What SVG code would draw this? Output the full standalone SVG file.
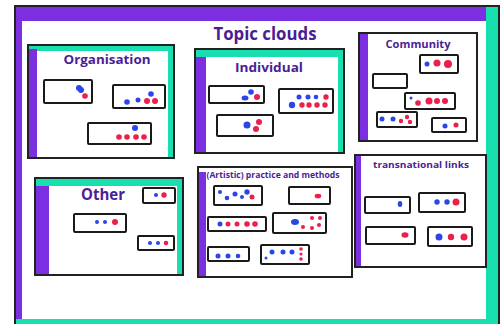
<svg xmlns="http://www.w3.org/2000/svg" width="504" height="324" viewBox="0 0 504 324">
<style>
.frame{fill:#fff;stroke:#222;stroke-width:2}
.pur{fill:#7b2fe0}
.teal{fill:#19dfae}
.box{fill:#fff;stroke:#1a1a1a;stroke-width:2;rx:1}
.b{fill:#2a45e8}
.r{fill:#ea1f4c}
.t{font-family:"Open Sans","DejaVu Sans",sans-serif;font-weight:bold;fill:#4b1d96;text-anchor:middle}
</style>
<rect width="504" height="324" fill="#fff"/>
<g id="frame">
<rect x="15" y="6" width="484" height="320" class="frame"/>
<rect x="16" y="7" width="470" height="14" class="pur"/>
<rect x="16" y="7" width="6" height="316" class="pur"/>
<rect x="486" y="7" width="12" height="316" class="teal"/>
<rect x="16" y="319" width="482" height="5" class="teal"/>
<text x="265" y="40" class="t" font-size="17" textLength="103" lengthAdjust="spacingAndGlyphs">Topic clouds</text>
</g>
<g id="organisation">
<rect x="28" y="45" width="146" height="113" class="frame"/>
<rect x="29" y="46" width="144" height="5" class="teal"/>
<rect x="168" y="46" width="5" height="111" class="teal"/>
<rect x="29" y="49" width="8" height="108" class="pur"/>
<text x="107" y="64" class="t" font-size="12.5" textLength="87" lengthAdjust="spacingAndGlyphs">Organisation</text>
<rect x="44" y="80" width="48" height="23" class="box"/>
<circle cx="79" cy="88" r="3" class="b"/><circle cx="81" cy="90" r="3" class="b"/><circle cx="85" cy="96" r="2.8" class="r"/>
<rect x="113" y="85" width="52" height="23" class="box"/>
<circle cx="127" cy="102" r="2.8" class="b"/><circle cx="138" cy="100" r="2.5" class="b"/><circle cx="151" cy="94" r="2.8" class="b"/><circle cx="147" cy="101" r="3" class="r"/><circle cx="155" cy="101" r="3" class="r"/>
<rect x="88" y="123" width="63" height="21" class="box"/>
<circle cx="135" cy="128" r="3" class="b"/><circle cx="119" cy="137" r="2.8" class="r"/><circle cx="127" cy="137" r="2.8" class="r"/><circle cx="136" cy="137" r="2.8" class="r"/><circle cx="144" cy="137" r="2.8" class="r"/>
</g>
<g id="individual">
<rect x="195" y="49" width="149" height="104" class="frame"/>
<rect x="196" y="50" width="147" height="7" class="teal"/>
<rect x="338" y="50" width="5" height="102" class="teal"/>
<rect x="196" y="57" width="10" height="95" class="pur"/>
<text x="269" y="72" class="t" font-size="12.5" textLength="68" lengthAdjust="spacingAndGlyphs">Individual</text>
<rect x="209" y="86" width="55" height="17" class="box"/>
<circle cx="251" cy="92" r="2.8" class="b"/><ellipse cx="245" cy="98" rx="3.5" ry="2.5" class="b"/><circle cx="257" cy="97" r="3" class="r"/>
<rect x="279" y="89" width="54" height="24" class="box"/>
<circle cx="299" cy="97" r="2.5" class="b"/><circle cx="308" cy="97" r="2.5" class="b"/><circle cx="316" cy="97" r="2.3" class="b"/><circle cx="326" cy="97" r="2.7" class="r"/>
<circle cx="292" cy="105" r="3.2" class="b"/><circle cx="302" cy="105" r="2.7" class="r"/><circle cx="309" cy="105" r="2.7" class="r"/><circle cx="317" cy="105" r="2.7" class="r"/><circle cx="325" cy="105" r="2.7" class="r"/>
<rect x="217" y="115" width="56" height="21" class="box"/>
<circle cx="247" cy="125" r="3.5" class="b"/><circle cx="259" cy="122" r="3" class="r"/><circle cx="256" cy="129" r="3" class="r"/>
</g>
<g id="community">
<rect x="359" y="33" width="118" height="108" class="frame"/>
<rect x="360" y="34" width="8" height="106" class="pur"/>
<text x="418" y="48" class="t" font-size="11" textLength="65" lengthAdjust="spacingAndGlyphs">Community</text>
<rect x="420" y="55" width="38" height="18" class="box"/>
<circle cx="427" cy="64" r="2.5" class="b"/><circle cx="437" cy="63" r="3.5" class="r"/><circle cx="448" cy="64" r="4" class="r"/>
<rect x="373" y="74" width="34" height="14" class="box"/>
<rect x="405" y="93" width="50" height="16" class="box"/>
<circle cx="411" cy="98" r="1.5" class="b"/><circle cx="418" cy="103" r="2.8" class="r"/><circle cx="429" cy="101" r="3.5" class="r"/><circle cx="437" cy="101" r="3" class="r"/><circle cx="445" cy="101" r="3" class="r"/>
<rect x="377" y="112" width="40" height="15" class="box"/>
<circle cx="382" cy="119" r="2.5" class="b"/><circle cx="393" cy="119" r="2.5" class="b"/><circle cx="401" cy="121" r="2.2" class="r"/><circle cx="407" cy="117" r="2.2" class="r"/><circle cx="410" cy="122" r="2.2" class="r"/>
<rect x="432" y="118" width="34" height="14" class="box"/>
<circle cx="445" cy="126" r="2.5" class="b"/><circle cx="456" cy="125" r="2.5" class="r"/>
</g>
<g id="other">
<rect x="35" y="178" width="148" height="97" class="frame"/>
<rect x="36" y="179" width="146" height="7" class="teal"/>
<rect x="177" y="179" width="5" height="95" class="teal"/>
<rect x="36" y="186" width="13" height="88" class="pur"/>
<text x="103" y="200" class="t" font-size="16" textLength="44" lengthAdjust="spacingAndGlyphs">Other</text>
<rect x="143" y="188" width="32" height="15" class="box"/>
<circle cx="156" cy="195" r="2" class="b"/><circle cx="164" cy="195" r="2.7" class="r"/>
<rect x="74" y="214" width="52" height="18" class="box"/>
<circle cx="97" cy="222" r="2" class="b"/><circle cx="105" cy="222" r="2" class="b"/><circle cx="115" cy="222" r="3" class="r"/>
<rect x="138" y="236" width="36" height="14" class="box"/>
<circle cx="150" cy="243" r="2" class="b"/><circle cx="158" cy="243" r="2" class="b"/><circle cx="166" cy="243" r="2.3" class="r"/>
</g>
<g id="practice">
<rect x="198" y="167" width="154" height="110" class="frame"/>
<rect x="199" y="172" width="7" height="104" class="pur"/>
<text x="273" y="178" class="t" font-size="8.5" textLength="133" lengthAdjust="spacingAndGlyphs">(Artistic) practice and methods</text>
<rect x="214" y="186" width="48" height="19" class="box"/>
<circle cx="220" cy="192" r="2" class="b"/><circle cx="227" cy="198" r="2.3" class="b"/><circle cx="235" cy="194" r="2.5" class="b"/><circle cx="242" cy="197" r="2" class="b"/><circle cx="247" cy="192" r="2.7" class="b"/><circle cx="252" cy="197" r="2.5" class="r"/>
<rect x="289" y="187" width="41" height="17" class="box"/>
<ellipse cx="318" cy="196" rx="3.3" ry="2.3" class="r"/>
<rect x="208" y="217" width="58" height="14" class="box"/>
<circle cx="220" cy="224" r="2.5" class="b"/><circle cx="228" cy="224" r="2.5" class="r"/><circle cx="237" cy="224" r="2.5" class="r"/><circle cx="247" cy="224" r="2.8" class="r"/><circle cx="255" cy="224" r="2.8" class="r"/>
<rect x="273" y="213" width="53" height="20" class="box"/>
<ellipse cx="295" cy="222" rx="4" ry="3" class="b"/><circle cx="312" cy="218" r="2" class="r"/><circle cx="320" cy="218" r="2" class="r"/><circle cx="303" cy="227" r="2" class="r"/><circle cx="312" cy="228" r="2" class="r"/><circle cx="319" cy="225" r="2" class="r"/>
<rect x="208" y="247" width="41" height="14" class="box"/>
<circle cx="218" cy="256" r="2.5" class="b"/><circle cx="228" cy="256" r="2.5" class="b"/><circle cx="238" cy="256" r="2.3" class="b"/>
<rect x="261" y="245" width="48" height="19" class="box"/>
<circle cx="266" cy="258" r="1.5" class="b"/><circle cx="272" cy="252" r="2.5" class="b"/><circle cx="283" cy="252" r="2.5" class="b"/><circle cx="292" cy="252" r="2.5" class="b"/><circle cx="301" cy="249" r="1.8" class="r"/><circle cx="301" cy="254" r="1.6" class="r"/><circle cx="301" cy="259" r="1.8" class="r"/>
</g>
<g id="transnational">
<rect x="355" y="155" width="131" height="112" class="frame"/>
<rect x="356" y="156" width="5" height="110" class="pur"/>
<text x="421" y="168" class="t" font-size="9" textLength="96" lengthAdjust="spacingAndGlyphs">transnational links</text>
<rect x="365" y="197" width="45" height="16" class="box"/>
<ellipse cx="400" cy="204" rx="2.3" ry="3" class="b"/>
<rect x="419" y="193" width="46" height="19" class="box"/>
<circle cx="437" cy="202" r="2.7" class="b"/><circle cx="447" cy="202" r="2.7" class="b"/><circle cx="456" cy="202" r="3.5" class="r"/>
<rect x="366" y="227" width="49" height="17" class="box"/>
<ellipse cx="405" cy="235" rx="3.5" ry="2.7" class="r"/>
<rect x="428" y="227" width="44" height="19" class="box"/>
<circle cx="439" cy="237" r="3.5" class="b"/><circle cx="451" cy="237" r="3.2" class="r"/><circle cx="464" cy="237" r="3.5" class="r"/>
</g>
<g id="connectors"/>
</svg>
